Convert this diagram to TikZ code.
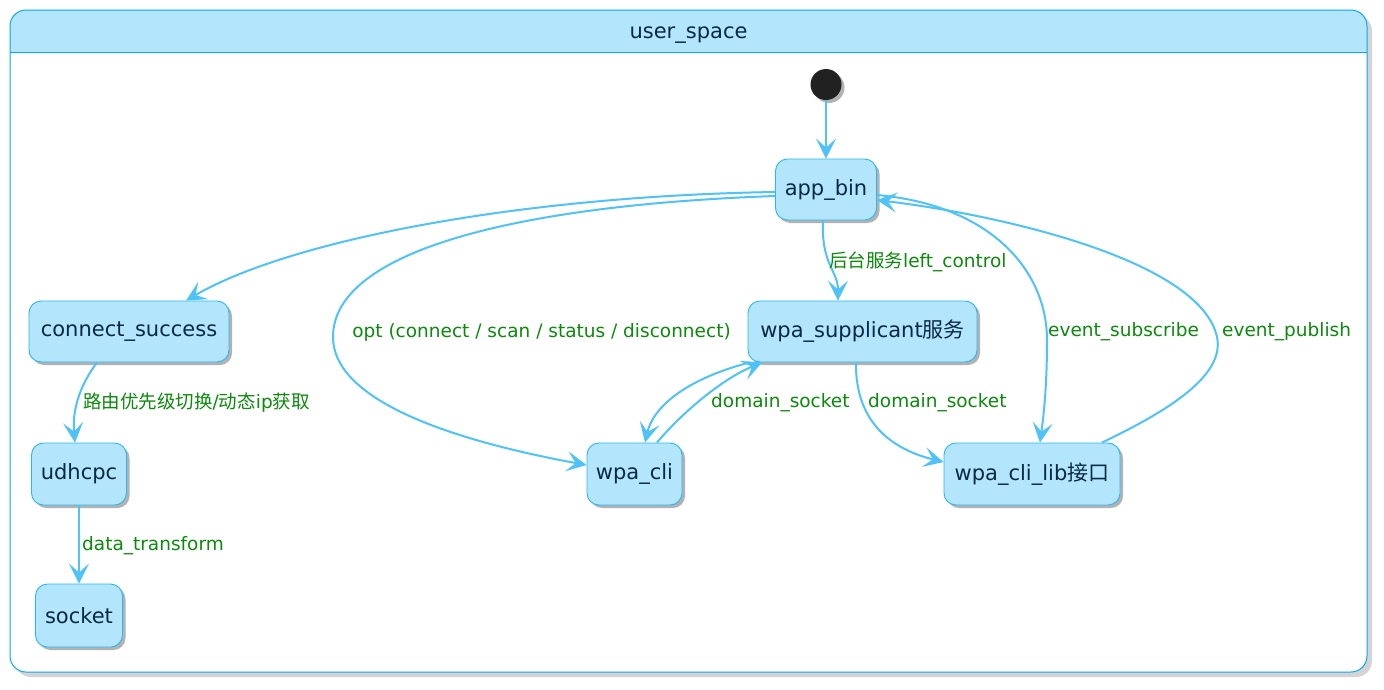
\documentclass[tikz,border=0pt]{standalone}
\usepackage{fontspec}
\setmainfont{DejaVu Sans}
\newfontfamily\cjk{Noto Sans CJK SC}
\usetikzlibrary{arrows.meta,shadows}
\definecolor{nodefill}{HTML}{B3E5FC}
\definecolor{nodeline}{HTML}{29B6F6}
\definecolor{frameline}{HTML}{03A9F4}
\definecolor{edgecol}{HTML}{4FC3F7}
\definecolor{txt}{HTML}{0A2A43}
\definecolor{lbl}{HTML}{0B8A0B}
\begin{document}
\begin{tikzpicture}[x=1pt,y=-1pt,
  st/.style={draw=nodeline, line width=0.9pt, fill=nodefill, rounded corners=12pt, text=txt,
    font=\fontsize{21}{25}\selectfont, inner sep=0pt,
    drop shadow={shadow xshift=3pt, shadow yshift=-3pt, opacity=0.3, fill=black}},
  conn/.style={draw=edgecol, line width=2pt, -{Stealth[length=20pt,width=20pt,inset=9pt]}},
  lab/.style={text=lbl, font=\fontsize{18.5}{22}\selectfont, inner sep=0pt}
]
\useasboundingbox (0,0) rectangle (1384,689);
% frame
\fill[black!17, rounded corners=16pt] (15,15) rectangle (1372,677);
\fill[white, rounded corners=16pt] (10,10) rectangle (1367,672);
\begin{scope}
  \clip[rounded corners=16pt] (10,10) rectangle (1367,672);
  \fill[nodefill] (10,10) rectangle (1367,52);
\end{scope}
\draw[frameline, line width=1pt] (10,52) -- (1367,52);
\draw[frameline, line width=1pt, rounded corners=16pt] (10,10) rectangle (1367,672);
\node[text=txt, font=\fontsize{21}{25}\selectfont] (title) at (688.5,35) {user\_space};

% nodes
\node[circle, fill=black!87, minimum size=31pt, inner sep=0pt,
  drop shadow={shadow xshift=3pt, shadow yshift=-3pt, opacity=0.3, fill=black}] (init) at (826,84.5) {};
\node[st, minimum width=101pt, minimum height=61pt] (app) at (826,189.5) {app\_bin};
\node[st, minimum width=200pt, minimum height=61pt] (cs) at (129,331.5) {connect\_success};
\node[st, minimum width=95pt, minimum height=62pt] (udh) at (79,474) {udhcpc};
\node[st, minimum width=87pt, minimum height=63pt] (sock) at (79,615.5) {socket};
\node[st, minimum width=229pt, minimum height=61pt] (ws) at (862.5,331.5) {wpa\_supplicant{\cjk 服务}};
\node[st, minimum width=95pt, minimum height=62pt] (wcli) at (634.5,474) {wpa\_cli};
\node[st, minimum width=176pt, minimum height=62pt] (lib) at (1032,474) {wpa\_cli\_lib{\cjk 接口}};

% edges
\draw[conn] (init.south) -- (app.north);
\draw[conn] ([yshift=-2.5pt]app.west) .. controls (520,196) and (290,240) .. ([xshift=57pt]cs.north);
\draw[conn] ([yshift=-6.5pt]app.west) .. controls (520,205) and (333,250) .. (333,337)
  .. controls (333,400) and (450,440) .. ([yshift=9pt]wcli.west);
\node[lab] (lopt) at (541.5,332) {opt (connect / scan / status / disconnect)};

\draw[conn] ([xshift=-3pt]app.south) .. controls (821,265) and (838,270) .. ([xshift=-24.5pt]ws.north);
\node[lab, anchor=west] (lleft) at (829,262) {{\cjk 后台服务}left\_control};

\draw[conn] ([xshift=22.5pt]wcli.north) .. controls (680,415) and (720,380) .. ([xshift=-100.5pt]ws.south);
\node[lab, anchor=west] (ldom1) at (711,403) {domain\_socket};
\draw[conn] ([xshift=-112.5pt]ws.south) .. controls (700,375) and (655,400) .. ([xshift=10.5pt]wcli.north);

\draw[conn] ([xshift=-6.5pt]ws.south) .. controls (855,425) and (895,450) .. ([yshift=12pt]lib.west);
\node[lab, anchor=west] (ldom2) at (868,403) {domain\_socket};

\draw[conn] ([yshift=-5.5pt]app.east) .. controls (990,205) and (1047,270) .. (1047,340)
  .. controls (1047,390) and (1043,420) .. ([xshift=8pt]lib.north);
\node[lab, anchor=west] (lsub) at (1048,332) {event\_subscribe};

\draw[conn] ([xshift=70pt]lib.north) .. controls (1170,410) and (1225,375) .. (1217,337)
  .. controls (1200,260) and (1000,215) .. ([yshift=-10.5pt]app.east);
\node[lab, anchor=west] (lpub) at (1222,332) {event\_publish};

\draw[conn] ([xshift=-32pt]cs.south) .. controls (80,385) and (72,410) .. ([xshift=-4pt]udh.north);
\node[lab, anchor=west] (lroute) at (83,403) {{\cjk 路由优先级切换}/{\cjk 动态}ip{\cjk 获取}};

\draw[conn] (udh.south) -- (sock.north);
\node[lab, anchor=west] (ldata) at (82,546) {data\_transform};
\end{tikzpicture}
\end{document}
